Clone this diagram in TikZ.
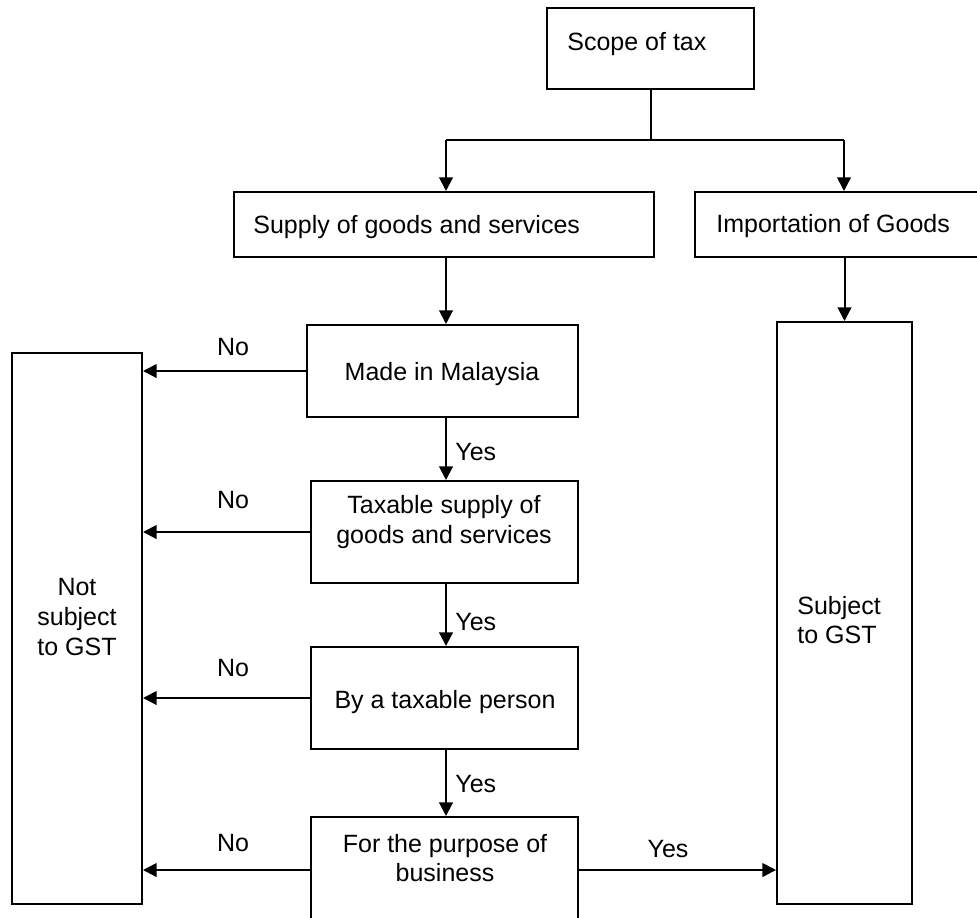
\documentclass[tikz,border=0pt]{standalone}
\usepackage{fontspec}
\setmainfont{Liberation Sans}
\usetikzlibrary{arrows.meta}
\begin{document}
\begin{tikzpicture}[x=0.5pt,y=-0.5pt,
  font=\fontsize{12.5pt}{14.8pt}\selectfont,
  box/.style={draw,line width=1pt,inner sep=0pt},
  txt/.style={inner sep=0pt,align=center},
  lbl/.style={inner sep=0pt},
  arr/.style={line width=1pt,-{Triangle[length=6.8pt,width=6.8pt]}},
  con/.style={line width=1pt}]
\useasboundingbox (0,0) rectangle (977,917);
% boxes
\node[box,minimum width=103.5pt,minimum height=40.5pt] (scope) at (650.5,48.5) {};
\node[box,minimum width=210pt,minimum height=32.5pt] (supply) at (444,224.5) {};
\node[box,minimum width=147.5pt,minimum height=32.5pt] (imp) at (842.5,224.5) {};
\node[box,minimum width=135.5pt,minimum height=46pt] (made) at (442.5,371) {};
\node[box,minimum width=133.5pt,minimum height=51pt] (tax) at (444.5,532) {};
\node[box,minimum width=133.5pt,minimum height=51pt] (by) at (444.5,698) {};
\node[box,minimum width=133.5pt,minimum height=53pt] (forb) at (444.5,870) {};
\node[box,minimum width=65pt,minimum height=275.5pt] (notb) at (77,628.5) {};
\node[box,minimum width=67.5pt,minimum height=291pt] (subj) at (844.5,613) {};
% texts
\node[lbl,anchor=west] (scopet) at (567,44) {Scope of tax};
\node[lbl,anchor=west] (supplyt) at (253,227) {Supply of goods and services};
\node[lbl,anchor=west] (impt) at (716,226) {Importation of Goods};
\node[txt] (madet) at (442,374) {Made in Malaysia};
\node[txt] (taxt) at (444,522) {Taxable supply of\\goods and services};
\node[txt] (byt) at (445,702) {By a taxable person};
\node[txt] (fort) at (445,858) {For the purpose of\\business};
\node[txt] (nott) at (77,617) {Not\\subject\\to GST};
\node[txt,align=left,anchor=west] (subjt) at (797,620) {Subject\\to GST};
% connectors
\coordinate (j) at (scope.south |- 0,140);
\coordinate (jl) at (446,140);
\coordinate (jr) at (844,140);
\draw[con] (scope.south) -- (j);
\draw[con] (jl) -- (jr);
\draw[arr] (jl) -- (jl |- supply.north);
\draw[arr] (jr) -- (jr |- imp.north);
\draw[arr] (imp.south -| subj.north) -- (subj.north);
\coordinate (c1) at (446,0);
\draw[arr] (supply.south -| c1) -- (made.north -| c1);
\draw[arr] (made.south -| c1) -- (tax.north -| c1);
\draw[arr] (tax.south -| c1) -- (by.north -| c1);
\draw[arr] (by.south -| c1) -- (forb.north -| c1);
\draw[arr] (made.west) -- (made.west -| notb.east);
\draw[arr] (tax.west) -- (tax.west -| notb.east);
\draw[arr] (by.west) -- (by.west -| notb.east);
\draw[arr] (forb.west) -- (forb.west -| notb.east);
\draw[arr] (forb.east) -- (forb.east -| subj.west);
% labels
\node[lbl] (no1) at (233,347) {No};
\node[lbl] (no2) at (233,500) {No};
\node[lbl] (no3) at (233,668) {No};
\node[lbl] (no4) at (233,843) {No};
\node[lbl,anchor=west] (yes1) at (455,452) {Yes};
\node[lbl,anchor=west] (yes2) at (455,622) {Yes};
\node[lbl,anchor=west] (yes3) at (455,784) {Yes};
\node[lbl] (yes4) at (668,849) {Yes};
\end{tikzpicture}
\end{document}
